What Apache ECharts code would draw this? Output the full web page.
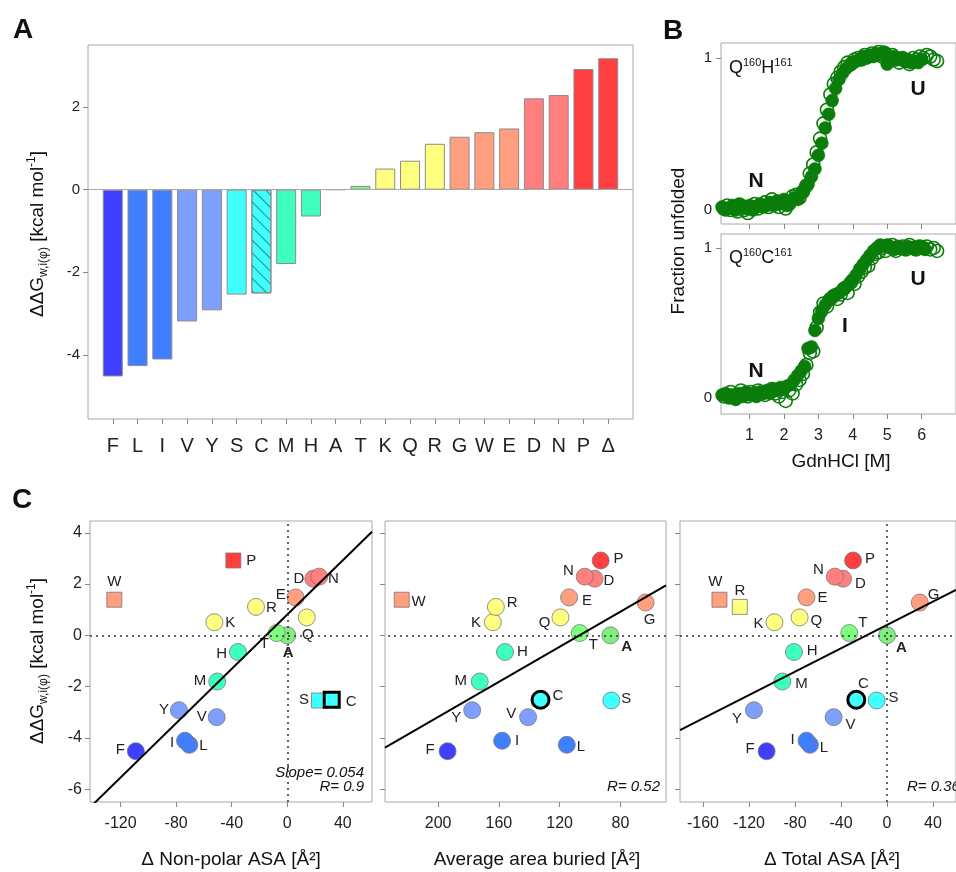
<!DOCTYPE html>
<html>
<head>
<meta charset="utf-8">
<script src="https://cdn.jsdelivr.net/npm/echarts@6/dist/echarts.min.js"></script>
<style>
  html, body { margin: 0; padding: 0; background: #fff; }
  #chart { width: 956px; height: 872px; }
</style>
</head>
<body>
<div id="chart"></div>
<script>
// residues, sorted by ddG (panel A order)
const residues = ['F','L','I','V','Y','S','C','M','H','A','T','K','Q','R','G','W','E','D','N','P','Δ'];
const ddg = [-4.52,-4.27,-4.11,-3.19,-2.92,-2.54,-2.51,-1.80,-0.65,0,0.09,0.51,0.70,1.11,1.28,1.39,1.48,2.21,2.29,2.92,3.18];
const resColors = ['#3f3fff','#3f7fff','#3f7fff','#7f9fff','#7f9fff','#3fffff','#3fffff','#3fffbf','#3fffbf','#7fef7f','#7fff7f',
  '#ffff7f','#ffff7f','#ffff7f','#ff9f7f','#ff9f7f','#ff9f7f','#ff7f7f','#ff7f7f','#ff3f3f','#ff3f3f'];

// panel C x values (same order as residues, null = not plotted)
const nonPolarASA = [-109,-70.5,-73.6,-50.8,-78,22.8,32,-50.4,-35.5,0,-7.6,-52.5,14,-22.5,null,-124.5,6,18.7,23,-38.8,null];
const areaBuried = [193.8,115.3,157.9,140.8,177.6,86,132.6,172.6,156,86.6,106.8,164,119.5,162,63.4,224,113.8,97,103.5,93,null];
const totalASA = [-104.7,-67,-70,-46.4,-115.7,-9,-26.7,-91,-80.9,0,-32.8,-97.9,-76,-128,28.5,-145.7,-70,-38.2,-45.4,-29.5,null];
const squaresNonPolar = ['W','P','S','C'];
const squaresBuried = ['W'];
const squaresTotal = ['W','R'];
// fit lines, end points
const fitNonPolar = [[-142,-6.71],[61,4.04]];
const fitBuried = [[235,-4.38],[50,1.95]];
const fitTotal = [[-180,-3.70],[60,1.77]];

// tick values
const ticksA = [-4,-2,0,2];
const ticksB = [1,2,3,4,5,6];
const ticksFrac = [0,1];
const ticksDdg = [-6,-4,-2,0,2,4];
const ticksNonPolar = [-120,-80,-40,0,40];
const ticksBuried = [200,160,120,80];
const ticksTotal = [-160,-120,-80,-40,0,40];

// panel B: denaturation curves [GdnHCl M, fraction unfolded]
const hisFilled = [[0.2,0.02],[0.3,0.00],[0.4,0.01],[0.5,0.03],[0.6,0.00],[0.7,0.04],[0.8,0.02],[0.9,0.01],[1.0,0.03],[1.1,0.00],
  [1.2,0.02],[1.3,0.04],[1.4,0.02],[1.5,0.03],[1.6,0.05],[1.7,0.03],[1.8,0.06],[1.9,0.04],[2.0,0.07],[2.1,0.03],[2.2,0.06],[2.3,0.08],
  [2.4,0.07],[2.5,0.11],[2.6,0.14],[2.7,0.17],[2.8,0.22],[2.9,0.27],[3.0,0.36],[3.1,0.44],[3.2,0.54],[3.3,0.63],[3.4,0.72],[3.5,0.80],
  [3.6,0.86],[3.7,0.90],[3.8,0.93],[3.9,0.95],[4.0,0.97],[4.1,0.98],[4.2,0.99],[4.3,1.01],[4.4,1.00],[4.5,1.02],[4.6,1.01],[4.7,1.03],
  [4.8,1.02],[4.9,1.04],[5.0,0.96],[5.1,0.98],[5.2,1.01],[5.3,0.99],[5.4,1.00],[5.5,0.98],[5.6,0.99],[5.7,0.97],[5.8,0.98],[5.9,0.97],[6.0,0.99]];
const hisOpen = [[0.25,0.01],[0.35,0.03],[0.45,0.00],[0.55,0.02],[0.65,-0.01],[0.75,0.03],[0.85,0.00],[0.95,-0.02],[1.05,0.02],[1.15,0.04],
  [1.25,0.01],[1.35,0.03],[1.45,0.05],[1.55,0.02],[1.65,0.07],[1.75,0.04],[1.85,0.02],[1.95,0.05],[2.05,0.01],[2.15,0.04],[2.25,0.09],
  [2.35,0.10],[2.45,0.08],[2.55,0.12],[2.65,0.16],[2.75,0.24],[2.85,0.30],[2.95,0.38],[3.05,0.47],[3.15,0.57],[3.25,0.66],[3.35,0.76],
  [3.45,0.83],[3.55,0.87],[3.65,0.91],[3.75,0.94],[3.85,0.97],[3.95,0.96],[4.05,0.99],[4.15,1.00],[4.25,0.99],[4.35,1.02],[4.45,1.01],
  [4.55,1.03],[4.65,1.02],[4.75,1.04],[4.85,1.01],[4.95,1.03],[5.05,1.00],[5.15,1.02],[5.25,0.99],[5.35,0.97],[5.45,1.00],[5.55,0.98],
  [5.65,0.96],[5.75,1.00],[5.85,0.99],[5.95,1.01],[6.05,1.00],[6.15,1.02],[6.25,1.01],[6.35,0.99],[6.45,0.98]];
const cysFilled = [[0.2,0.02],[0.3,0.03],[0.4,0.00],[0.5,0.02],[0.6,-0.01],[0.7,0.03],[0.8,0.01],[0.9,0.04],[1.0,0.02],[1.1,0.03],
  [1.2,0.01],[1.3,0.04],[1.4,0.03],[1.5,0.05],[1.6,0.03],[1.7,0.06],[1.8,0.05],[1.9,0.07],[2.0,0.06],[2.1,0.08],[2.2,0.09],[2.3,0.12],
  [2.4,0.15],[2.5,0.18],[2.6,0.21],[2.7,0.33],[2.8,0.34],[2.9,0.45],[3.0,0.53],[3.1,0.58],[3.2,0.62],[3.3,0.65],[3.4,0.67],[3.5,0.69],
  [3.6,0.70],[3.7,0.72],[3.8,0.74],[3.9,0.76],[4.0,0.79],[4.1,0.82],[4.2,0.86],[4.3,0.89],[4.4,0.92],[4.5,0.95],[4.6,0.98],[4.7,1.00],
  [4.8,1.02],[4.9,1.01],[5.0,1.02],[5.1,1.00],[5.2,0.99],[5.3,1.01],[5.4,1.00],[5.5,0.99],[5.6,1.01],[5.7,1.00],[5.8,0.99],[5.9,1.01],[6.0,1.00],[6.1,0.99]];
const cysOpen = [[0.25,0.01],[0.35,0.02],[0.45,0.04],[0.55,0.00],[0.65,0.02],[0.75,0.05],[0.85,0.02],[0.95,0.01],[1.05,0.04],[1.15,0.02],
  [1.25,0.05],[1.35,0.03],[1.45,0.02],[1.55,0.04],[1.65,0.06],[1.75,0.03],[1.85,0.01],[1.95,0.04],[2.05,-0.02],[2.15,0.05],[2.25,0.03],
  [2.35,0.09],[2.45,0.12],[2.55,0.16],[2.65,0.22],[2.75,0.30],[2.85,0.31],[2.95,0.47],[3.05,0.57],[3.15,0.63],[3.25,0.61],[3.35,0.66],
  [3.45,0.68],[3.55,0.66],[3.65,0.69],[3.75,0.73],[3.85,0.70],[3.95,0.77],[4.05,0.76],[4.15,0.81],[4.25,0.84],[4.35,0.87],[4.45,0.88],
  [4.55,0.93],[4.65,0.96],[4.75,0.97],[4.85,1.00],[4.95,0.98],[5.05,1.01],[5.15,1.02],[5.25,0.98],[5.35,1.00],[5.45,1.01],[5.55,0.99],
  [5.65,1.02],[5.75,1.00],[5.85,0.99],[5.95,1.01],[6.05,1.00],[6.15,1.01],[6.25,0.99],[6.35,1.00],[6.45,0.98]];

const FONT = 'Liberation Sans, Arial, sans-serif';
const GREY = '#a8a8a8';
const GREEN = '#0b7d0b';

// where each point letter goes: [position, dx, dy]
const placeNonPolar = {F:['left',3,-1],L:['right',-4,1],I:['left',3,2],V:['left',4,0],Y:['left',4,0],S:['left',3,-1],C:['right',0,2],
  M:['left',3,-1],H:['left',3,2],A:['bottom',1,-4],T:['left',6,11],K:['right',-3,1],Q:['bottom',1,-4],R:['right',-4,1],
  W:['top',0,3],E:['left',4,-3],D:['left',5,0],N:['right',-5,2],P:['right',0,0]};
const placeBuried = {W:['right',-3,2],R:['right',-3,-4],K:['left',2,1],H:['right',-2,0],M:['left',1,-1],Y:['left',3,8],F:['left',1,-1],
  I:['right',-1,0],V:['left',2,-3],C:['right',-3,-4],L:['right',-4,2],S:['right',-4,-2],Q:['left',4,5],E:['right',-1,3],
  N:['left',3,-6],D:['right',-5,2],P:['right',-1,-2],T:['right',-5,12],A:['right',-3,12],G:['bottom',4,-4]};
const placeTotal = {W:['top',-4,3],R:['top',0,4],K:['left',3,2],Q:['right',-3,3],E:['right',-3,0],N:['left',3,-7],D:['right',-2,5],
  P:['right',-2,-2],T:['right',-5,-10],A:['right',-5,13],G:['right',-6,-8],H:['right',-1,-1],M:['right',-1,2],Y:['left',2,9],
  F:['left',2,-2],I:['left',2,-1],L:['right',-4,3],V:['right',-2,8],C:['top',7,7],S:['right',-2,-3]};

const tickStyle = { show: true, length: 5, inside: false, lineStyle: { color: '#888' } };
const labelStyle = { color: '#222', fontFamily: FONT, fontSize: 16 };

function valAxis(gridIndex, min, max, ticks, showLabel, extra) {
  return Object.assign({
    type: 'value', gridIndex, min, max,
    axisLine: { show: false, onZero: false },
    splitLine: { show: false },
    axisTick: Object.assign({ customValues: ticks }, tickStyle),
    axisLabel: Object.assign({ show: showLabel, customValues: ticks, margin: 8 }, labelStyle)
  }, extra || {});
}

const grids = [
  { left: 88, top: 45, width: 545, height: 374 },   // A
  { left: 721, top: 43, width: 255, height: 181 },  // B top
  { left: 721, top: 234, width: 255, height: 180 }, // B bottom
  { left: 90, top: 521, width: 282, height: 281 },  // C1
  { left: 385, top: 521, width: 281, height: 281 }, // C2
  { left: 680, top: 521, width: 293, height: 281 }  // C3
].map(g => Object.assign({ show: true, borderColor: GREY, borderWidth: 1, backgroundColor: 'transparent' }, g));

const residueIdx = residues.map((r, i) => i);

const xAxes = [
  valAxis(0, -1, 21, residueIdx, true, {
    axisLabel: Object.assign({ customValues: residueIdx, margin: 17, formatter: v => residues[v] }, labelStyle, { fontSize: 20 })
  }),
  valAxis(1, 0.17, 7, ticksB, false),
  valAxis(2, 0.17, 7, ticksB, true, { axisLabel: Object.assign({ customValues: ticksB, margin: 14 }, labelStyle, { fontSize: 16 }) }),
  valAxis(3, -142, 61, ticksNonPolar, true, { axisLabel: Object.assign({ customValues: ticksNonPolar, margin: 14 }, labelStyle) }),
  valAxis(4, 50, 235, ticksBuried, true, { inverse: true, axisLabel: Object.assign({ customValues: ticksBuried, margin: 14 }, labelStyle) }),
  valAxis(5, -180, 60, ticksTotal, true, { axisLabel: Object.assign({ customValues: ticksTotal, margin: 14 }, labelStyle) })
];
const yAxes = [
  valAxis(0, -5.55, 3.5, ticksA, true, { axisLabel: Object.assign({ customValues: ticksA, margin: 8 }, labelStyle, { fontSize: 15 }) }),
  valAxis(1, -0.092, 1.099, ticksFrac, true, { axisLabel: Object.assign({ customValues: ticksFrac, margin: 9 }, labelStyle, { fontSize: 15 }) }),
  valAxis(2, -0.107, 1.093, ticksFrac, true, { axisLabel: Object.assign({ customValues: ticksFrac, margin: 9 }, labelStyle, { fontSize: 15 }) }),
  valAxis(3, -6.5, 4.46, ticksDdg, true),
  valAxis(4, -6.5, 4.46, ticksDdg, false),
  valAxis(5, -6.5, 4.46, ticksDdg, false)
];

// panel A bars
const barData = residues.map((r, i) => {
  const item = { value: [i, ddg[i]], itemStyle: { color: resColors[i] } };
  if (r === 'C') {
    item.itemStyle.decal = { symbol: 'rect', symbolSize: 1, dashArrayX: [1, 0], dashArrayY: [1, 8], rotation: Math.PI / 4, color: 'rgba(0,0,0,0.45)' };
  }
  return item;
});

function curve(axis, data, open) {
  return {
    type: 'scatter', xAxisIndex: axis, yAxisIndex: axis, data, symbol: 'circle', symbolSize: 13,
    itemStyle: open ? { color: 'rgba(255,255,255,0)', borderColor: GREEN, borderWidth: 1.6, opacity: 1 } : { color: GREEN, borderColor: GREEN, borderWidth: 0.5, opacity: 1 },
    silent: true
  };
}

function scatterPanel(axis, xs, squares, place, fit, vertical) {
  const circles = [], boxes = [];
  residues.forEach((r, i) => {
    if (xs[i] == null) return;
    const p = place[r] || ['right', 0, 0];
    const item = {
      name: r,
      value: [xs[i], ddg[i]],
      itemStyle: { color: resColors[i], borderColor: r === 'C' ? '#000' : '#777', borderWidth: r === 'C' ? 3 : 0.8, opacity: 1 },
      label: { position: p[0], offset: [p[1] || 0, p[2] || 0], fontWeight: r === 'A' ? 'bold' : 'normal' }
    };
    (squares.includes(r) ? boxes : circles).push(item);
  });
  const markData = [{ yAxis: 0 }];
  if (vertical) markData.push({ xAxis: 0 });
  const lbl = { show: true, formatter: '{b}', fontSize: 15, color: '#222', fontFamily: FONT };
  return [
    {
      type: 'line', xAxisIndex: axis, yAxisIndex: axis, data: fit, symbol: 'none', clip: true,
      lineStyle: { color: '#000', width: 2 }, silent: true,
      markLine: { silent: true, symbol: ['none', 'none'], label: { show: false }, lineStyle: { color: '#333', type: [2, 4], width: 1.5 }, data: markData }
    },
    { type: 'scatter', xAxisIndex: axis, yAxisIndex: axis, symbol: 'circle', symbolSize: 17, data: circles, label: lbl, silent: true },
    { type: 'scatter', xAxisIndex: axis, yAxisIndex: axis, symbol: 'rect', symbolSize: 15, data: boxes, label: lbl, silent: true }
  ];
}

const series = [
  {
    type: 'bar', xAxisIndex: 0, yAxisIndex: 0, barWidth: 20, data: barData, silent: true,
    itemStyle: { borderColor: '#8c8c8c', borderWidth: 1 },
    markLine: { silent: true, symbol: ['none', 'none'], label: { show: false }, lineStyle: { color: GREY, type: 'solid', width: 1 }, data: [{ yAxis: 0 }] }
  },
  curve(1, hisFilled, false), curve(1, hisOpen, true),
  curve(2, cysFilled, false), curve(2, cysOpen, true)
].concat(
  scatterPanel(3, nonPolarASA, squaresNonPolar, placeNonPolar, fitNonPolar, true),
  scatterPanel(4, areaBuried, squaresBuried, placeBuried, fitBuried, false),
  scatterPanel(5, totalASA, squaresTotal, placeTotal, fitTotal, true)
);

function txt(x, y, text, size, extra) {
  return {
    type: 'text', x, y, silent: true,
    style: Object.assign({ text, fontSize: size, fontFamily: FONT, fill: '#111', align: 'center', verticalAlign: 'middle' }, extra || {})
  };
}
const ddgRich = {
  m: { fontSize: 19, fontFamily: FONT, color: '#111', lineHeight: 24 },
  sub: { fontSize: 12, fontFamily: FONT, color: '#111', lineHeight: 12, verticalAlign: 'bottom' },
  sup: { fontSize: 12, fontFamily: FONT, color: '#111', lineHeight: 12, verticalAlign: 'top' }
};
const ddgLabel = '{m|ΔΔG}{sub|w,i(φ)}{m| [kcal mol}{sup|-1}{m|]}';
const qRich = {
  m: { fontSize: 18, fontFamily: FONT, color: '#111', lineHeight: 22 },
  sup: { fontSize: 11, fontFamily: FONT, color: '#111', lineHeight: 11, verticalAlign: 'top' }
};

const graphic = [
  txt(23, 30, 'A', 28, { fontWeight: 'bold' }),
  txt(673, 31, 'B', 28, { fontWeight: 'bold' }),
  txt(22, 500, 'C', 28, { fontWeight: 'bold' }),
  Object.assign(txt(38, 234, ddgLabel, 19, { rich: ddgRich }), { rotation: Math.PI / 2 }),
  Object.assign(txt(38, 661, ddgLabel, 19, { rich: ddgRich }), { rotation: Math.PI / 2 }),
  Object.assign(txt(679, 241, 'Fraction unfolded', 19), { rotation: Math.PI / 2 }),
  txt(841, 462, 'GdnHCl [M]', 19),
  txt(729, 68, '{m|Q}{sup|160}{m|H}{sup|161}', 18, { rich: qRich, align: 'left' }),
  txt(729, 258, '{m|Q}{sup|160}{m|C}{sup|161}', 18, { rich: qRich, align: 'left' }),
  txt(756, 181, 'N', 21, { fontWeight: 'bold' }),
  txt(918, 89, 'U', 21, { fontWeight: 'bold' }),
  txt(756, 371, 'N', 21, { fontWeight: 'bold' }),
  txt(845, 326, 'I', 21, { fontWeight: 'bold' }),
  txt(918, 279, 'U', 21, { fontWeight: 'bold' }),
  txt(231, 860, 'Δ Non-polar ASA [Å²]', 19),
  txt(537, 860, 'Average area buried [Å²]', 19),
  txt(832, 860, 'Δ Total ASA [Å²]', 19),
  txt(364, 773, 'Slope= 0.054', 15, { align: 'right', fontStyle: 'italic' }),
  txt(364, 787, 'R= 0.9', 15, { align: 'right', fontStyle: 'italic' }),
  txt(660, 787, 'R= 0.52', 15, { align: 'right', fontStyle: 'italic' }),
  txt(907, 787, 'R= 0.36', 15, { align: 'left', fontStyle: 'italic' })
];

const chart = echarts.init(document.getElementById('chart'), null, { renderer: 'canvas' });
chart.setOption({
  animation: false,
  backgroundColor: '#fff',
  textStyle: { fontFamily: FONT },
  grid: grids,
  xAxis: xAxes,
  yAxis: yAxes,
  series,
  graphic
});
</script>
</body>
</html>
